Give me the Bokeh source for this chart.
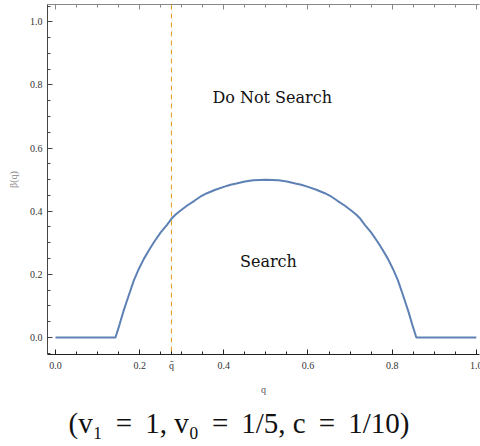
from bokeh.plotting import figure
from bokeh.models import (Range1d, FixedTicker, LinearAxis, Span, Title, Label,
                          PrintfTickFormatter, CustomJSTickFormatter)
from bokeh.embed import file_html
from bokeh.resources import INLINE

# ---- data ----
q_vals = [0.000, 0.1425, 0.152, 0.162, 0.174, 0.186, 0.198, 0.210, 0.222, 0.2335,
          0.250, 0.265, 0.2755, 0.285, 0.295, 0.313, 0.330, 0.344, 0.360, 0.380,
          0.400, 0.416, 0.430, 0.450, 0.470, 0.500,
          0.530, 0.550, 0.570, 0.584, 0.600, 0.620, 0.640, 0.656, 0.670, 0.687,
          0.705, 0.715, 0.7245, 0.735, 0.750, 0.7665,
          0.778, 0.790, 0.802, 0.814, 0.826, 0.838, 0.848, 0.8575, 1.000]
beta_vals = [0.000, 0.000, 0.040, 0.085, 0.133, 0.180, 0.217, 0.249, 0.276, 0.301,
             0.333, 0.357, 0.376, 0.389, 0.400, 0.418, 0.433, 0.446, 0.457, 0.468,
             0.477, 0.484, 0.488, 0.494, 0.498, 0.500,
             0.498, 0.494, 0.488, 0.484, 0.477, 0.468, 0.457, 0.446, 0.433, 0.418,
             0.400, 0.389, 0.376, 0.357, 0.333, 0.301,
             0.276, 0.249, 0.217, 0.180, 0.133, 0.085, 0.040, 0.000, 0.000]
q_bar = 0.2755
x_major = [0.0, 0.2, 0.4, 0.6, 0.8, 1.0]
x_tick_labels = ["0.0", "0.2", "0.4", "0.6", "0.8", "1.0"]
q_bar_label = "q\u0304"
x_minor = [0.05, 0.1, 0.15, 0.25, 0.3, 0.35, 0.45, 0.5, 0.55, 0.65, 0.7, 0.75,
           0.85, 0.9, 0.95]
y_major = [0.0, 0.2, 0.4, 0.6, 0.8, 1.0]
y_minor = [-0.05, 0.05, 0.1, 0.15, 0.25, 0.3, 0.35, 0.45, 0.5, 0.55, 0.65, 0.7,
           0.75, 0.85, 0.9, 0.95, 1.05]
region_labels = ["Do Not Search", "Search"]
region_q = [0.515, 0.506]
region_beta = [0.76, 0.24]
caption = "(v\u2081 \u2009=\u2009 1, v\u2080 \u2009=\u2009 1/5, c \u2009=\u2009 1/10)"

SERIF = "Liberation Serif"

p = figure(width=480, height=446, output_backend="svg", toolbar_location=None,
           x_range=Range1d(-0.019, 1.0076), y_range=Range1d(-0.054, 1.055),
           x_axis_location=None, y_axis_location=None,
           min_border_left=47, min_border_right=1, min_border_top=4,
           min_border_bottom=92)
p.outline_line_color = None
p.grid.visible = False
p.background_fill_color = "white"
p.border_fill_color = "white"


def style_axis(ax, ticks, minor, color, labels=True):
    ax.ticker = FixedTicker(ticks=ticks, minor_ticks=minor)
    ax.axis_line_color = color
    ax.major_tick_line_color = color
    ax.minor_tick_line_color = color
    ax.major_tick_in = 5
    ax.major_tick_out = 0
    ax.minor_tick_in = 3
    ax.minor_tick_out = 0
    ax.axis_line_width = 1
    if labels:
        ax.formatter = PrintfTickFormatter(format="%.1f")
        ax.major_label_text_font = SERIF
        ax.major_label_text_font_size = "10px"
        ax.major_label_text_color = "#333333"
        ax.major_label_standoff = 5
    else:
        ax.formatter = CustomJSTickFormatter(code="return ''")
        ax.major_label_standoff = 0


xaxis = LinearAxis(axis_label="q")
style_axis(xaxis, x_major + [q_bar], x_minor, "#222222")
xaxis.major_label_overrides = dict(zip(x_major + [q_bar],
                                       x_tick_labels + [q_bar_label]))
xaxis.axis_label_text_font = SERIF
xaxis.axis_label_text_font_size = "10px"
xaxis.axis_label_text_font_style = "normal"
xaxis.axis_label_text_color = "#555555"
xaxis.axis_label_standoff = 10
p.add_layout(xaxis, "below")

yaxis = LinearAxis(axis_label="\u03b2(q)")
style_axis(yaxis, y_major, y_minor, "#444444")
yaxis.axis_label_text_font = SERIF
yaxis.axis_label_text_font_size = "10px"
yaxis.axis_label_text_font_style = "normal"
yaxis.axis_label_text_color = "#888888"
yaxis.axis_label_standoff = 8
p.add_layout(yaxis, "left")

top = LinearAxis()
style_axis(top, x_major, x_minor, "#888888", labels=False)
p.add_layout(top, "above")

p.add_layout(Span(location=q_bar, dimension="height", line_color="#E19C24",
                  line_width=1, line_dash="5 4"))

p.line(q_vals, beta_vals, line_color="#5E81B5", line_width=2)

for txt, qx, by in zip(region_labels, region_q, region_beta):
    p.add_layout(Label(x=qx, y=by, text=txt, text_align="center",
                       text_baseline="middle", text_font="DejaVu Serif",
                       text_font_size="16px", text_font_style="normal",
                       text_color="#111111"))

p.add_layout(Title(text=caption, align="left", text_font=SERIF,
                   text_font_size="29px", text_font_style="normal",
                   text_color="#111111", standoff=14, offset=21), "below")

open("out.html", "w").write(file_html(p, INLINE))
